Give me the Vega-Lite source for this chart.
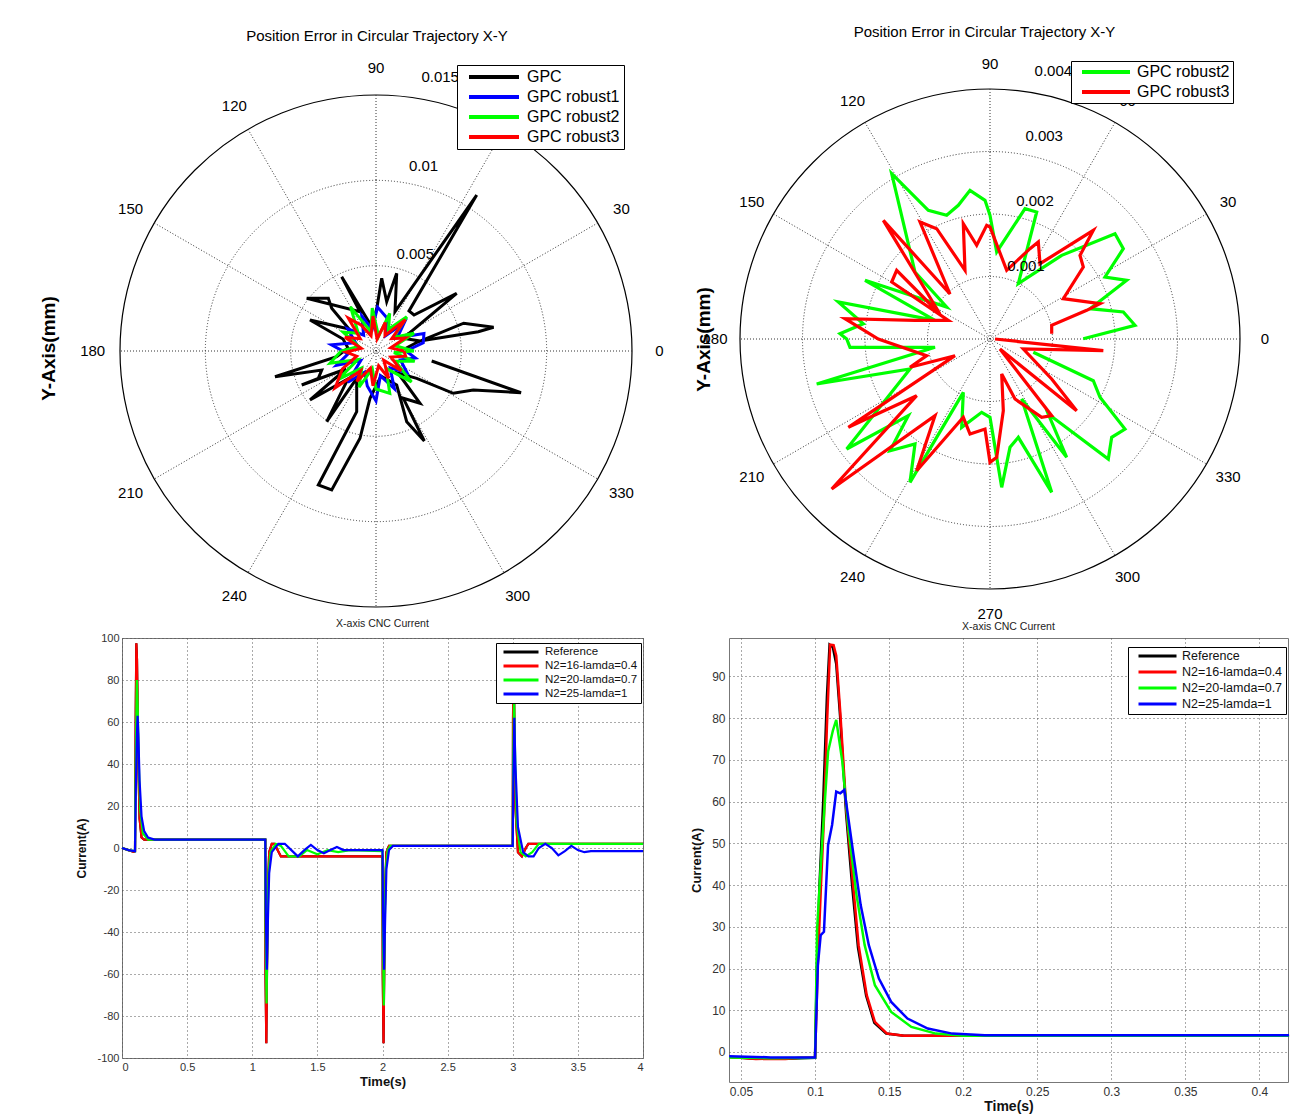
{
"$schema": "https://vega.github.io/schema/vega-lite/v6.json",
"background": "white",
"padding": {"left": 39, "top": 24, "right": 0, "bottom": 0},
"autosize": {"type": "pad"},
"config": {"font": "Liberation Sans", "view": {"stroke": "#777"}, "title": {"font": "Liberation Sans"}, "axis": {"labelFont": "Liberation Sans", "titleFont": "Liberation Sans"}, "legend": {"labelFont": "Liberation Sans"}, "text": {"font": "Liberation Sans"}},
"datasets": {
"tl": [
{"s":"GPC","i":1,"x":0.001752,"y":0.000152},{"s":"GPC","i":2,"x":0.002408,"y":0.000510},{"s":"GPC","i":3,"x":0.005138,"y":0.001629},{"s":"GPC","i":4,"x":0.006890,"y":0.001389},{"s":"GPC","i":5,"x":0.005994,"y":0.001131},{"s":"GPC","i":6,"x":0.002578,"y":0.000586},{"s":"GPC","i":7,"x":0.001594,"y":0.000744},{"s":"GPC","i":8,"x":0.004728,"y":0.003381},{"s":"GPC","i":9,"x":0.002226,"y":0.002109},{"s":"GPC","i":10,"x":0.001933,"y":0.002344},{"s":"GPC","i":11,"x":0.005900,"y":0.009140},{"s":"GPC","i":12,"x":0.001113,"y":0.002303},{"s":"GPC","i":13,"x":0.001213,"y":0.004552},{"s":"GPC","i":14,"x":0.000627,"y":0.002888},{"s":"GPC","i":15,"x":0.000334,"y":0.004260},{"s":"GPC","i":16,"x":0.000041,"y":0.002461},{"s":"GPC","i":17,"x":-0.000252,"y":0.001441},{"s":"GPC","i":18,"x":-0.002010,"y":0.004353},{"s":"GPC","i":19,"x":-0.000937,"y":0.002303},{"s":"GPC","i":20,"x":-0.004060,"y":0.003088},{"s":"GPC","i":21,"x":-0.002795,"y":0.003088},{"s":"GPC","i":22,"x":-0.002596,"y":0.002502},{"s":"GPC","i":23,"x":-0.001582,"y":0.001289},{"s":"GPC","i":24,"x":-0.003867,"y":0.001816},{"s":"GPC","i":25,"x":-0.001933,"y":0.000703},{"s":"GPC","i":26,"x":-0.001641,"y":0.000176},{"s":"GPC","i":27,"x":-0.002303,"y":-0.000334},{"s":"GPC","i":28,"x":-0.005918,"y":-0.001506},{"s":"GPC","i":29,"x":-0.003181,"y":-0.001113},{"s":"GPC","i":30,"x":-0.003381,"y":-0.001600},{"s":"GPC","i":31,"x":-0.004353,"y":-0.001992},{"s":"GPC","i":32,"x":-0.001758,"y":-0.001055},{"s":"GPC","i":33,"x":-0.003867,"y":-0.002871},{"s":"GPC","i":34,"x":-0.001641,"y":-0.001641},{"s":"GPC","i":35,"x":-0.002888,"y":-0.004142},{"s":"GPC","i":36,"x":-0.001131,"y":-0.001600},{"s":"GPC","i":37,"x":-0.001131,"y":-0.003556},{"s":"GPC","i":38,"x":-0.003381,"y":-0.007851},{"s":"GPC","i":39,"x":-0.002596,"y":-0.008144},{"s":"GPC","i":40,"x":-0.000937,"y":-0.005115},{"s":"GPC","i":41,"x":-0.000352,"y":-0.002771},{"s":"GPC","i":42,"x":0.000293,"y":-0.001465},{"s":"GPC","i":43,"x":0.001213,"y":-0.001992},{"s":"GPC","i":44,"x":0.001799,"y":-0.004142},{"s":"GPC","i":45,"x":0.002830,"y":-0.005273},{"s":"GPC","i":46,"x":0.001600,"y":-0.002771},{"s":"GPC","i":47,"x":0.002578,"y":-0.003064},{"s":"GPC","i":48,"x":0.001289,"y":-0.001289},{"s":"GPC","i":49,"x":0.002385,"y":-0.001600},{"s":"GPC","i":50,"x":0.004529,"y":-0.002478},{"s":"GPC","i":51,"x":0.005701,"y":-0.002285},{"s":"GPC","i":52,"x":0.008496,"y":-0.002443},{"s":"GPC","i":53,"x":0.003263,"y":-0.000586},
{"s":"GPC robust1","i":1,"x":0.001758,"y":0},{"s":"GPC robust1","i":2,"x":0.002770,"y":0.000489},{"s":"GPC robust1","i":3,"x":0.002809,"y":0.001022},{"s":"GPC robust1","i":4,"x":0.001242,"y":0.000776},{"s":"GPC robust1","i":5,"x":0.001657,"y":0.001657},{"s":"GPC robust1","i":6,"x":0.000559,"y":0.000895},{"s":"GPC robust1","i":7,"x":0.000634,"y":0.001951},{"s":"GPC robust1","i":8,"x":0.000090,"y":0.002575},{"s":"GPC robust1","i":9,"x":-0.000224,"y":0.001270},{"s":"GPC robust1","i":10,"x":-0.000835,"y":0.002064},{"s":"GPC robust1","i":11,"x":-0.000722,"y":0.000924},{"s":"GPC robust1","i":12,"x":-0.001662,"y":0.001299},{"s":"GPC robust1","i":13,"x":-0.001195,"y":0.000483},{"s":"GPC robust1","i":14,"x":-0.002611,"y":0.000367},{"s":"GPC robust1","i":15,"x":-0.001633,"y":-0.000172},{"s":"GPC robust1","i":16,"x":-0.002313,"y":-0.000842},{"s":"GPC robust1","i":17,"x":-0.000895,"y":-0.000559},{"s":"GPC robust1","i":18,"x":-0.001647,"y":-0.001829},{"s":"GPC robust1","i":19,"x":-0.000659,"y":-0.001241},{"s":"GPC robust1","i":20,"x":-0.000510,"y":-0.002046},{"s":"GPC robust1","i":21,"x":0,"y":-0.002930},{"s":"GPC robust1","i":22,"x":0.000255,"y":-0.001443},{"s":"GPC robust1","i":23,"x":0.001078,"y":-0.002213},{"s":"GPC robust1","i":24,"x":0.000829,"y":-0.000987},{"s":"GPC robust1","i":25,"x":0.001823,"y":-0.001278},{"s":"GPC robust1","i":26,"x":0.001432,"y":-0.000521},{"s":"GPC robust1","i":27,"x":0.002309,"y":-0.000408},{"s":"GPC robust1","i":28,"x":0.001758,"y":0},
{"s":"GPC robust2","i":1,"x":0.002226,"y":0},{"s":"GPC robust2","i":2,"x":0.001132,"y":0.000304},{"s":"GPC robust2","i":3,"x":0.002230,"y":0.001041},{"s":"GPC robust2","i":4,"x":0.001016,"y":0.000794},{"s":"GPC robust2","i":5,"x":0.001803,"y":0.002002},{"s":"GPC robust2","i":6,"x":0.000733,"y":0.001269},{"s":"GPC robust2","i":7,"x":0.000802,"y":0.002203},{"s":"GPC robust2","i":8,"x":0.000153,"y":0.000866},{"s":"GPC robust2","i":9,"x":-0.000219,"y":0.002509},{"s":"GPC robust2","i":10,"x":-0.000304,"y":0.001132},{"s":"GPC robust2","i":11,"x":-0.001494,"y":0.002588},{"s":"GPC robust2","i":12,"x":-0.001036,"y":0.001036},{"s":"GPC robust2","i":13,"x":-0.001928,"y":0.001113},{"s":"GPC robust2","i":14,"x":-0.001019,"y":0.000273},{"s":"GPC robust2","i":15,"x":-0.002051,"y":0},{"s":"GPC robust2","i":16,"x":-0.002694,"y":-0.000722},{"s":"GPC robust2","i":17,"x":-0.001062,"y":-0.000496},{"s":"GPC robust2","i":18,"x":-0.002224,"y":-0.001675},{"s":"GPC robust2","i":19,"x":-0.000829,"y":-0.000987},{"s":"GPC robust2","i":20,"x":-0.000991,"y":-0.002124},{"s":"GPC robust2","i":21,"x":-0.000219,"y":-0.001032},{"s":"GPC robust2","i":22,"x":0,"y":-0.002226},{"s":"GPC robust2","i":23,"x":0.000807,"y":-0.002485},{"s":"GPC robust2","i":24,"x":0.000586,"y":-0.001015},{"s":"GPC robust2","i":25,"x":0.002079,"y":-0.001807},{"s":"GPC robust2","i":26,"x":0.001138,"y":-0.000605},{"s":"GPC robust2","i":27,"x":0.002264,"y":-0.000607},{"s":"GPC robust2","i":28,"x":0.001051,"y":-0.000092},{"s":"GPC robust2","i":29,"x":0.002226,"y":0},
{"s":"GPC robust3","i":1,"x":0.001641,"y":0},{"s":"GPC robust3","i":2,"x":0.000860,"y":0.000183},{"s":"GPC robust3","i":3,"x":0.001714,"y":0.000763},{"s":"GPC robust3","i":4,"x":0.000924,"y":0.000722},{"s":"GPC robust3","i":5,"x":0.001718,"y":0.001841},{"s":"GPC robust3","i":6,"x":0.000528,"y":0.000914},{"s":"GPC robust3","i":7,"x":0.000543,"y":0.001672},{"s":"GPC robust3","i":8,"x":0.000061,"y":0.000700},{"s":"GPC robust3","i":9,"x":-0.000178,"y":0.002043},{"s":"GPC robust3","i":10,"x":-0.000290,"y":0.000891},{"s":"GPC robust3","i":11,"x":-0.000879,"y":0.001522},{"s":"GPC robust3","i":12,"x":-0.001620,"y":0.001930},{"s":"GPC robust3","i":13,"x":-0.000924,"y":0.000722},{"s":"GPC robust3","i":14,"x":-0.001821,"y":0.000811},{"s":"GPC robust3","i":15,"x":-0.000866,"y":0.000153},{"s":"GPC robust3","i":16,"x":-0.001756,"y":-0.000062},{"s":"GPC robust3","i":17,"x":-0.001132,"y":-0.000304},{"s":"GPC robust3","i":18,"x":-0.001966,"y":-0.001044},{"s":"GPC robust3","i":19,"x":-0.002394,"y":-0.002156},{"s":"GPC robust3","i":20,"x":-0.000902,"y":-0.001154},{"s":"GPC robust3","i":21,"x":-0.001118,"y":-0.001788},{"s":"GPC robust3","i":22,"x":-0.000326,"y":-0.001003},{"s":"GPC robust3","i":23,"x":-0.000178,"y":-0.002043},{"s":"GPC robust3","i":24,"x":0.000153,"y":-0.000866},{"s":"GPC robust3","i":25,"x":0.000744,"y":-0.001593},{"s":"GPC robust3","i":26,"x":0.000452,"y":-0.000539},{"s":"GPC robust3","i":27,"x":0.001478,"y":-0.001155},{"s":"GPC robust3","i":28,"x":0.000869,"y":-0.000351},{"s":"GPC robust3","i":29,"x":0.001732,"y":-0.000306},{"s":"GPC robust3","i":30,"x":0.001641,"y":0}
],
"tr": [
{"s":"GPC robust2","i":1,"x":0.001493,"y":0.000005},{"s":"GPC robust2","i":2,"x":0.002320,"y":0.000219},{"s":"GPC robust2","i":3,"x":0.002133,"y":0.000432},{"s":"GPC robust2","i":4,"x":0.001600,"y":0.000485},{"s":"GPC robust2","i":5,"x":0.002187,"y":0.000939},{"s":"GPC robust2","i":6,"x":0.001840,"y":0.000992},{"s":"GPC robust2","i":7,"x":0.002133,"y":0.001445},{"s":"GPC robust2","i":8,"x":0.002000,"y":0.001685},{"s":"GPC robust2","i":9,"x":0.001147,"y":0.001339},{"s":"GPC robust2","i":10,"x":0.000453,"y":0.000885},{"s":"GPC robust2","i":11,"x":0.000747,"y":0.002032},{"s":"GPC robust2","i":12,"x":0.000560,"y":0.002085},{"s":"GPC robust2","i":13,"x":0.000107,"y":0.001392},{"s":"GPC robust2","i":14,"x":0,"y":0.001979},{"s":"GPC robust2","i":15,"x":-0.000080,"y":0.002219},{"s":"GPC robust2","i":16,"x":-0.000320,"y":0.002379},{"s":"GPC robust2","i":17,"x":-0.000507,"y":0.002139},{"s":"GPC robust2","i":18,"x":-0.000693,"y":0.001979},{"s":"GPC robust2","i":19,"x":-0.000987,"y":0.002059},{"s":"GPC robust2","i":20,"x":-0.001573,"y":0.002645},{"s":"GPC robust2","i":21,"x":-0.001200,"y":0.001072},{"s":"GPC robust2","i":22,"x":-0.000693,"y":0.000512},{"s":"GPC robust2","i":23,"x":-0.002000,"y":0.000939},{"s":"GPC robust2","i":24,"x":-0.000880,"y":0.000299},{"s":"GPC robust2","i":25,"x":-0.002427,"y":0.000592},{"s":"GPC robust2","i":26,"x":-0.002027,"y":0.000245},{"s":"GPC robust2","i":27,"x":-0.002400,"y":0.000085},{"s":"GPC robust2","i":28,"x":-0.002293,"y":0},{"s":"GPC robust2","i":29,"x":-0.002240,"y":-0.000133},{"s":"GPC robust2","i":30,"x":-0.000880,"y":-0.000133},{"s":"GPC robust2","i":31,"x":-0.002773,"y":-0.000720},{"s":"GPC robust2","i":32,"x":-0.001280,"y":-0.000480},{"s":"GPC robust2","i":33,"x":-0.002293,"y":-0.001760},{"s":"GPC robust2","i":34,"x":-0.001307,"y":-0.001227},{"s":"GPC robust2","i":35,"x":-0.001600,"y":-0.001787},{"s":"GPC robust2","i":36,"x":-0.001200,"y":-0.001680},{"s":"GPC robust2","i":37,"x":-0.001280,"y":-0.002293},{"s":"GPC robust2","i":38,"x":-0.000427,"y":-0.000853},{"s":"GPC robust2","i":39,"x":-0.000453,"y":-0.001413},{"s":"GPC robust2","i":40,"x":-0.000133,"y":-0.001173},{"s":"GPC robust2","i":41,"x":0,"y":-0.001253},{"s":"GPC robust2","i":42,"x":0.000187,"y":-0.002373},{"s":"GPC robust2","i":43,"x":0.000320,"y":-0.001733},{"s":"GPC robust2","i":44,"x":0.000453,"y":-0.001573},{"s":"GPC robust2","i":45,"x":0.000987,"y":-0.002453},{"s":"GPC robust2","i":46,"x":0.000507,"y":-0.000960},{"s":"GPC robust2","i":47,"x":0.001227,"y":-0.001893},{"s":"GPC robust2","i":48,"x":0.000933,"y":-0.001200},{"s":"GPC robust2","i":49,"x":0.001893,"y":-0.001920},{"s":"GPC robust2","i":50,"x":0.001947,"y":-0.001573},{"s":"GPC robust2","i":51,"x":0.002160,"y":-0.001440},{"s":"GPC robust2","i":52,"x":0.001760,"y":-0.000933},{"s":"GPC robust2","i":53,"x":0.001653,"y":-0.000667},{"s":"GPC robust2","i":54,"x":0.000693,"y":-0.000213},
{"s":"GPC robust3","i":1,"x":0.000987,"y":0.000085},{"s":"GPC robust3","i":2,"x":0.000987,"y":0.000219},{"s":"GPC robust3","i":3,"x":0.001547,"y":0.000459},{"s":"GPC robust3","i":4,"x":0.001760,"y":0.000565},{"s":"GPC robust3","i":5,"x":0.001173,"y":0.000645},{"s":"GPC robust3","i":6,"x":0.001493,"y":0.001152},{"s":"GPC robust3","i":7,"x":0.001440,"y":0.001339},{"s":"GPC robust3","i":8,"x":0.001653,"y":0.001739},{"s":"GPC robust3","i":9,"x":0.000800,"y":0.001205},{"s":"GPC robust3","i":10,"x":0.000773,"y":0.001552},{"s":"GPC robust3","i":11,"x":0.000640,"y":0.001445},{"s":"GPC robust3","i":12,"x":0.000267,"y":0.001099},{"s":"GPC robust3","i":13,"x":0,"y":0.001792},{"s":"GPC robust3","i":14,"x":-0.000053,"y":0.001819},{"s":"GPC robust3","i":15,"x":-0.000213,"y":0.001499},{"s":"GPC robust3","i":16,"x":-0.000427,"y":0.001845},{"s":"GPC robust3","i":17,"x":-0.000400,"y":0.001099},{"s":"GPC robust3","i":18,"x":-0.000853,"y":0.001765},{"s":"GPC robust3","i":19,"x":-0.001120,"y":0.001872},{"s":"GPC robust3","i":20,"x":-0.000640,"y":0.000720},{"s":"GPC robust3","i":21,"x":-0.001707,"y":0.001899},{"s":"GPC robust3","i":22,"x":-0.000800,"y":0.000400},{"s":"GPC robust3","i":23,"x":-0.001493,"y":0.001099},{"s":"GPC robust3","i":24,"x":-0.001573,"y":0.000912},{"s":"GPC robust3","i":25,"x":-0.000667,"y":0.000299},{"s":"GPC robust3","i":26,"x":-0.001200,"y":0.000299},{"s":"GPC robust3","i":27,"x":-0.002320,"y":0.000325},{"s":"GPC robust3","i":28,"x":-0.001787,"y":0},{"s":"GPC robust3","i":29,"x":-0.001013,"y":-0.000267},{"s":"GPC robust3","i":30,"x":-0.001280,"y":-0.000453},{"s":"GPC robust3","i":31,"x":-0.000560,"y":-0.000267},{"s":"GPC robust3","i":32,"x":-0.002267,"y":-0.001413},{"s":"GPC robust3","i":33,"x":-0.001173,"y":-0.000907},{"s":"GPC robust3","i":34,"x":-0.002533,"y":-0.002400},{"s":"GPC robust3","i":35,"x":-0.000880,"y":-0.001227},{"s":"GPC robust3","i":36,"x":-0.001173,"y":-0.002107},{"s":"GPC robust3","i":37,"x":-0.000427,"y":-0.001253},{"s":"GPC robust3","i":38,"x":-0.000320,"y":-0.001520},{"s":"GPC robust3","i":39,"x":-0.000080,"y":-0.001440},{"s":"GPC robust3","i":40,"x":0,"y":-0.001973},{"s":"GPC robust3","i":41,"x":0.000107,"y":-0.001893},{"s":"GPC robust3","i":42,"x":0.000213,"y":-0.001147},{"s":"GPC robust3","i":43,"x":0.000187,"y":-0.000560},{"s":"GPC robust3","i":44,"x":0.000400,"y":-0.000960},{"s":"GPC robust3","i":45,"x":0.000827,"y":-0.001253},{"s":"GPC robust3","i":46,"x":0.000987,"y":-0.001227},{"s":"GPC robust3","i":47,"x":0.000160,"y":-0.000160},{"s":"GPC robust3","i":48,"x":0.001387,"y":-0.001147},{"s":"GPC robust3","i":49,"x":0.000987,"y":-0.000640},{"s":"GPC robust3","i":50,"x":0.000533,"y":-0.000160},{"s":"GPC robust3","i":51,"x":0.001813,"y":-0.000187},{"s":"GPC robust3","i":52,"x":0.000080,"y":0}
],
"bl": [
{"s":"Reference","t":0,"v":0},{"s":"Reference","t":0.05,"v":-1},{"s":"Reference","t":0.09,"v":-1.8},{"s":"Reference","t":0.1,"v":-1.5},{"s":"Reference","t":0.105,"v":60},{"s":"Reference","t":0.11,"v":97.5},{"s":"Reference","t":0.115,"v":90},{"s":"Reference","t":0.125,"v":42},{"s":"Reference","t":0.135,"v":14},{"s":"Reference","t":0.15,"v":5},{"s":"Reference","t":0.17,"v":4},{"s":"Reference","t":1.1,"v":4},{"s":"Reference","t":1.102,"v":-60},{"s":"Reference","t":1.108,"v":-93},{"s":"Reference","t":1.113,"v":-60},{"s":"Reference","t":1.12,"v":-20},{"s":"Reference","t":1.13,"v":-2},{"s":"Reference","t":1.15,"v":2},{"s":"Reference","t":1.17,"v":2},{"s":"Reference","t":1.22,"v":-4},{"s":"Reference","t":2.0,"v":-4},{"s":"Reference","t":2.002,"v":-60},{"s":"Reference","t":2.008,"v":-93},{"s":"Reference","t":2.013,"v":-60},{"s":"Reference","t":2.02,"v":-20},{"s":"Reference","t":2.03,"v":-2},{"s":"Reference","t":2.05,"v":1},{"s":"Reference","t":3.0,"v":1},{"s":"Reference","t":3.002,"v":60},{"s":"Reference","t":3.007,"v":97},{"s":"Reference","t":3.012,"v":60},{"s":"Reference","t":3.02,"v":20},{"s":"Reference","t":3.04,"v":-2},{"s":"Reference","t":3.07,"v":-4},{"s":"Reference","t":3.1,"v":0},{"s":"Reference","t":3.12,"v":2},{"s":"Reference","t":4,"v":2},
{"s":"N2=16-lamda=0.4","t":0,"v":0},{"s":"N2=16-lamda=0.4","t":0.05,"v":-1},{"s":"N2=16-lamda=0.4","t":0.09,"v":-1.8},{"s":"N2=16-lamda=0.4","t":0.1,"v":-1.5},{"s":"N2=16-lamda=0.4","t":0.105,"v":60},{"s":"N2=16-lamda=0.4","t":0.11,"v":97.5},{"s":"N2=16-lamda=0.4","t":0.115,"v":90},{"s":"N2=16-lamda=0.4","t":0.125,"v":42},{"s":"N2=16-lamda=0.4","t":0.135,"v":14},{"s":"N2=16-lamda=0.4","t":0.15,"v":5},{"s":"N2=16-lamda=0.4","t":0.17,"v":4},{"s":"N2=16-lamda=0.4","t":1.1,"v":4},{"s":"N2=16-lamda=0.4","t":1.102,"v":-60},{"s":"N2=16-lamda=0.4","t":1.108,"v":-93},{"s":"N2=16-lamda=0.4","t":1.113,"v":-60},{"s":"N2=16-lamda=0.4","t":1.12,"v":-20},{"s":"N2=16-lamda=0.4","t":1.13,"v":-2},{"s":"N2=16-lamda=0.4","t":1.15,"v":2},{"s":"N2=16-lamda=0.4","t":1.17,"v":2},{"s":"N2=16-lamda=0.4","t":1.22,"v":-4},{"s":"N2=16-lamda=0.4","t":2.0,"v":-4},{"s":"N2=16-lamda=0.4","t":2.002,"v":-60},{"s":"N2=16-lamda=0.4","t":2.008,"v":-93},{"s":"N2=16-lamda=0.4","t":2.013,"v":-60},{"s":"N2=16-lamda=0.4","t":2.02,"v":-20},{"s":"N2=16-lamda=0.4","t":2.03,"v":-2},{"s":"N2=16-lamda=0.4","t":2.05,"v":1},{"s":"N2=16-lamda=0.4","t":3.0,"v":1},{"s":"N2=16-lamda=0.4","t":3.002,"v":60},{"s":"N2=16-lamda=0.4","t":3.007,"v":97},{"s":"N2=16-lamda=0.4","t":3.012,"v":60},{"s":"N2=16-lamda=0.4","t":3.02,"v":20},{"s":"N2=16-lamda=0.4","t":3.04,"v":-2},{"s":"N2=16-lamda=0.4","t":3.07,"v":-4},{"s":"N2=16-lamda=0.4","t":3.1,"v":0},{"s":"N2=16-lamda=0.4","t":3.12,"v":2},{"s":"N2=16-lamda=0.4","t":4,"v":2},
{"s":"N2=20-lamda=0.7","t":0,"v":0},{"s":"N2=20-lamda=0.7","t":0.05,"v":-1},{"s":"N2=20-lamda=0.7","t":0.1,"v":-1.5},{"s":"N2=20-lamda=0.7","t":0.105,"v":40},{"s":"N2=20-lamda=0.7","t":0.114,"v":80},{"s":"N2=20-lamda=0.7","t":0.12,"v":68},{"s":"N2=20-lamda=0.7","t":0.13,"v":38},{"s":"N2=20-lamda=0.7","t":0.14,"v":18},{"s":"N2=20-lamda=0.7","t":0.16,"v":7},{"s":"N2=20-lamda=0.7","t":0.2,"v":4},{"s":"N2=20-lamda=0.7","t":1.1,"v":4},{"s":"N2=20-lamda=0.7","t":1.103,"v":-40},{"s":"N2=20-lamda=0.7","t":1.11,"v":-74},{"s":"N2=20-lamda=0.7","t":1.116,"v":-40},{"s":"N2=20-lamda=0.7","t":1.125,"v":-12},{"s":"N2=20-lamda=0.7","t":1.14,"v":-2},{"s":"N2=20-lamda=0.7","t":1.18,"v":2},{"s":"N2=20-lamda=0.7","t":1.22,"v":1},{"s":"N2=20-lamda=0.7","t":1.28,"v":-4},{"s":"N2=20-lamda=0.7","t":1.36,"v":-4},{"s":"N2=20-lamda=0.7","t":1.42,"v":-1},{"s":"N2=20-lamda=0.7","t":1.5,"v":-3},{"s":"N2=20-lamda=0.7","t":1.58,"v":-1},{"s":"N2=20-lamda=0.7","t":1.66,"v":-2},{"s":"N2=20-lamda=0.7","t":1.75,"v":-1},{"s":"N2=20-lamda=0.7","t":2.0,"v":-1.5},{"s":"N2=20-lamda=0.7","t":2.003,"v":-40},{"s":"N2=20-lamda=0.7","t":2.01,"v":-75},{"s":"N2=20-lamda=0.7","t":2.016,"v":-40},{"s":"N2=20-lamda=0.7","t":2.025,"v":-10},{"s":"N2=20-lamda=0.7","t":2.04,"v":-1},{"s":"N2=20-lamda=0.7","t":2.06,"v":1},{"s":"N2=20-lamda=0.7","t":3.0,"v":1},{"s":"N2=20-lamda=0.7","t":3.003,"v":40},{"s":"N2=20-lamda=0.7","t":3.01,"v":72},{"s":"N2=20-lamda=0.7","t":3.016,"v":50},{"s":"N2=20-lamda=0.7","t":3.03,"v":12},{"s":"N2=20-lamda=0.7","t":3.06,"v":-2},{"s":"N2=20-lamda=0.7","t":3.1,"v":-4},{"s":"N2=20-lamda=0.7","t":3.15,"v":-2},{"s":"N2=20-lamda=0.7","t":3.2,"v":2},{"s":"N2=20-lamda=0.7","t":4,"v":2},
{"s":"N2=25-lamda=1","t":0,"v":0},{"s":"N2=25-lamda=1","t":0.05,"v":-1},{"s":"N2=25-lamda=1","t":0.1,"v":-1.5},{"s":"N2=25-lamda=1","t":0.106,"v":28},{"s":"N2=25-lamda=1","t":0.115,"v":55},{"s":"N2=25-lamda=1","t":0.12,"v":63},{"s":"N2=25-lamda=1","t":0.125,"v":55},{"s":"N2=25-lamda=1","t":0.135,"v":32},{"s":"N2=25-lamda=1","t":0.15,"v":15},{"s":"N2=25-lamda=1","t":0.17,"v":8},{"s":"N2=25-lamda=1","t":0.2,"v":5},{"s":"N2=25-lamda=1","t":0.25,"v":4},{"s":"N2=25-lamda=1","t":1.1,"v":4},{"s":"N2=25-lamda=1","t":1.104,"v":-30},{"s":"N2=25-lamda=1","t":1.112,"v":-58},{"s":"N2=25-lamda=1","t":1.12,"v":-35},{"s":"N2=25-lamda=1","t":1.13,"v":-12},{"s":"N2=25-lamda=1","t":1.15,"v":-2},{"s":"N2=25-lamda=1","t":1.2,"v":2},{"s":"N2=25-lamda=1","t":1.25,"v":2},{"s":"N2=25-lamda=1","t":1.3,"v":-1},{"s":"N2=25-lamda=1","t":1.35,"v":-4},{"s":"N2=25-lamda=1","t":1.4,"v":-1},{"s":"N2=25-lamda=1","t":1.45,"v":1.5},{"s":"N2=25-lamda=1","t":1.5,"v":-1},{"s":"N2=25-lamda=1","t":1.55,"v":-2.5},{"s":"N2=25-lamda=1","t":1.6,"v":-1},{"s":"N2=25-lamda=1","t":1.65,"v":0.5},{"s":"N2=25-lamda=1","t":1.7,"v":-1},{"s":"N2=25-lamda=1","t":1.8,"v":-1},{"s":"N2=25-lamda=1","t":2.0,"v":-1},{"s":"N2=25-lamda=1","t":2.004,"v":-30},{"s":"N2=25-lamda=1","t":2.012,"v":-58},{"s":"N2=25-lamda=1","t":2.02,"v":-35},{"s":"N2=25-lamda=1","t":2.03,"v":-10},{"s":"N2=25-lamda=1","t":2.05,"v":-1},{"s":"N2=25-lamda=1","t":2.08,"v":1},{"s":"N2=25-lamda=1","t":3.0,"v":1},{"s":"N2=25-lamda=1","t":3.004,"v":30},{"s":"N2=25-lamda=1","t":3.012,"v":62},{"s":"N2=25-lamda=1","t":3.02,"v":40},{"s":"N2=25-lamda=1","t":3.04,"v":10},{"s":"N2=25-lamda=1","t":3.08,"v":-2},{"s":"N2=25-lamda=1","t":3.12,"v":-4},{"s":"N2=25-lamda=1","t":3.16,"v":-4},{"s":"N2=25-lamda=1","t":3.2,"v":0},{"s":"N2=25-lamda=1","t":3.25,"v":2},{"s":"N2=25-lamda=1","t":3.3,"v":0},{"s":"N2=25-lamda=1","t":3.35,"v":-3.5},{"s":"N2=25-lamda=1","t":3.4,"v":-1.5},{"s":"N2=25-lamda=1","t":3.45,"v":1},{"s":"N2=25-lamda=1","t":3.5,"v":-1},{"s":"N2=25-lamda=1","t":3.55,"v":-2},{"s":"N2=25-lamda=1","t":3.6,"v":-1.5},{"s":"N2=25-lamda=1","t":4,"v":-1.5}
],
"br": [
{"s":"Reference","t":0.042,"v":-1.2},{"s":"Reference","t":0.06,"v":-1.6},{"s":"Reference","t":0.08,"v":-1.6},{"s":"Reference","t":0.1,"v":-1.4},{"s":"Reference","t":0.1012,"v":20},{"s":"Reference","t":0.103,"v":40},{"s":"Reference","t":0.1055,"v":60},{"s":"Reference","t":0.108,"v":85},{"s":"Reference","t":0.1098,"v":97.6},{"s":"Reference","t":0.112,"v":97},{"s":"Reference","t":0.1143,"v":93},{"s":"Reference","t":0.117,"v":80},{"s":"Reference","t":0.121,"v":57},{"s":"Reference","t":0.125,"v":40},{"s":"Reference","t":0.129,"v":25},{"s":"Reference","t":0.1345,"v":13.5},{"s":"Reference","t":0.14,"v":7},{"s":"Reference","t":0.148,"v":4.4},{"s":"Reference","t":0.16,"v":3.9},{"s":"Reference","t":0.42,"v":3.9},
{"s":"N2=16-lamda=0.4","t":0.042,"v":-1.2},{"s":"N2=16-lamda=0.4","t":0.05,"v":-1.4},{"s":"N2=16-lamda=0.4","t":0.06,"v":-1.7},{"s":"N2=16-lamda=0.4","t":0.07,"v":-1.6},{"s":"N2=16-lamda=0.4","t":0.08,"v":-1.7},{"s":"N2=16-lamda=0.4","t":0.09,"v":-1.4},{"s":"N2=16-lamda=0.4","t":0.1,"v":-1.4},{"s":"N2=16-lamda=0.4","t":0.1019,"v":21.6},{"s":"N2=16-lamda=0.4","t":0.104,"v":40},{"s":"N2=16-lamda=0.4","t":0.106,"v":56},{"s":"N2=16-lamda=0.4","t":0.108,"v":78},{"s":"N2=16-lamda=0.4","t":0.1102,"v":97.6},{"s":"N2=16-lamda=0.4","t":0.1125,"v":97.5},{"s":"N2=16-lamda=0.4","t":0.1143,"v":95},{"s":"N2=16-lamda=0.4","t":0.117,"v":81.6},{"s":"N2=16-lamda=0.4","t":0.1212,"v":57.6},{"s":"N2=16-lamda=0.4","t":0.1253,"v":41.6},{"s":"N2=16-lamda=0.4","t":0.1294,"v":25.6},{"s":"N2=16-lamda=0.4","t":0.1349,"v":13.6},{"s":"N2=16-lamda=0.4","t":0.1404,"v":7.2},{"s":"N2=16-lamda=0.4","t":0.1486,"v":4.4},{"s":"N2=16-lamda=0.4","t":0.16,"v":3.9},{"s":"N2=16-lamda=0.4","t":0.42,"v":3.9},
{"s":"N2=20-lamda=0.7","t":0.042,"v":-1.3},{"s":"N2=20-lamda=0.7","t":0.07,"v":-1.5},{"s":"N2=20-lamda=0.7","t":0.1,"v":-1.4},{"s":"N2=20-lamda=0.7","t":0.1014,"v":29.6},{"s":"N2=20-lamda=0.7","t":0.1047,"v":49.6},{"s":"N2=20-lamda=0.7","t":0.1088,"v":72},{"s":"N2=20-lamda=0.7","t":0.112,"v":77},{"s":"N2=20-lamda=0.7","t":0.1143,"v":79.6},{"s":"N2=20-lamda=0.7","t":0.1184,"v":69.6},{"s":"N2=20-lamda=0.7","t":0.1225,"v":53.6},{"s":"N2=20-lamda=0.7","t":0.128,"v":37.6},{"s":"N2=20-lamda=0.7","t":0.1335,"v":25.6},{"s":"N2=20-lamda=0.7","t":0.1404,"v":16},{"s":"N2=20-lamda=0.7","t":0.1514,"v":9.6},{"s":"N2=20-lamda=0.7","t":0.165,"v":6},{"s":"N2=20-lamda=0.7","t":0.1816,"v":4.4},{"s":"N2=20-lamda=0.7","t":0.2,"v":3.9},{"s":"N2=20-lamda=0.7","t":0.42,"v":3.9},
{"s":"N2=25-lamda=1","t":0.042,"v":-1},{"s":"N2=25-lamda=1","t":0.07,"v":-1.3},{"s":"N2=25-lamda=1","t":0.1,"v":-1.3},{"s":"N2=25-lamda=1","t":0.1019,"v":20.8},{"s":"N2=25-lamda=1","t":0.1038,"v":28},{"s":"N2=25-lamda=1","t":0.106,"v":28.8},{"s":"N2=25-lamda=1","t":0.1088,"v":49.6},{"s":"N2=25-lamda=1","t":0.1115,"v":54.4},{"s":"N2=25-lamda=1","t":0.1143,"v":62.4},{"s":"N2=25-lamda=1","t":0.117,"v":62},{"s":"N2=25-lamda=1","t":0.1198,"v":62.8},{"s":"N2=25-lamda=1","t":0.1225,"v":56},{"s":"N2=25-lamda=1","t":0.1266,"v":45.6},{"s":"N2=25-lamda=1","t":0.1308,"v":35.2},{"s":"N2=25-lamda=1","t":0.1363,"v":25.6},{"s":"N2=25-lamda=1","t":0.1431,"v":17.6},{"s":"N2=25-lamda=1","t":0.1514,"v":12},{"s":"N2=25-lamda=1","t":0.1624,"v":8},{"s":"N2=25-lamda=1","t":0.1761,"v":5.6},{"s":"N2=25-lamda=1","t":0.1926,"v":4.4},{"s":"N2=25-lamda=1","t":0.2146,"v":4},{"s":"N2=25-lamda=1","t":0.42,"v":4}
]
},
"bounds": "flush",
"align": "each",
"columns": 2,
"spacing": {"row": 31, "column": 86},
"resolve": {"scale": {"color": "independent", "radius": "independent", "x": "independent", "y": "independent"}, "legend": {"color": "independent"}, "axis": {"x": "independent", "y": "independent"}},
"concat": [
{
"width": 510, "height": 518,
"view": {"stroke": null},
"title": {"text": "Position Error in Circular Trajectory X-Y", "fontSize": 15, "fontWeight": "normal", "offset": 17, "frame": "group", "color": "#000"},
"layer": [
{"data": {"values": [{"r": 0.005}, {"r": 0.01}]},
 "mark": {"type": "arc", "theta": 0, "theta2": 6.2832, "filled": false, "stroke": "#333", "strokeWidth": 1, "strokeDash": [1, 2]},
 "encoding": {
  "x": {"datum": 0, "type": "quantitative", "scale": {"domain": [-0.014883, 0.015], "nice": false, "zero": false}, "axis": null},
  "y": {"datum": 0, "type": "quantitative", "scale": {"domain": [-0.015, 0.015352], "nice": false, "zero": false}, "axis": {"title": "Y-Axis(mm)", "labels": false, "ticks": false, "domain": false, "grid": false, "titleFontSize": 19, "titleFontWeight": "bold", "titleColor": "#000", "titlePadding": 64}},
  "radius": {"field": "r", "type": "quantitative", "stack": null, "scale": {"type": "linear", "domain": [0, 0.015], "range": [0, 256], "zero": true, "nice": false}}}},
{"data": {"values": [{"r": 0.015}]},
 "mark": {"type": "arc", "theta": 0, "theta2": 6.2832, "filled": false, "stroke": "#000", "strokeWidth": 1.2},
 "encoding": {
  "x": {"datum": 0, "type": "quantitative", "scale": {"domain": [-0.014883, 0.015], "nice": false, "zero": false}, "axis": null},
  "y": {"datum": 0, "type": "quantitative", "scale": {"domain": [-0.015, 0.015352], "nice": false, "zero": false}, "axis": {"title": "Y-Axis(mm)", "labels": false, "ticks": false, "domain": false, "grid": false, "titleFontSize": 19, "titleFontWeight": "bold", "titleColor": "#000", "titlePadding": 64}},
  "radius": {"field": "r", "type": "quantitative", "stack": null, "scale": {"type": "linear", "domain": [0, 0.015], "range": [0, 256], "zero": true, "nice": false}}}},
{"data": {"values": [{"x": 0.015, "y": 0, "x2": -0.015, "y2": 0}, {"x": 0.01299, "y": 0.0075, "x2": -0.01299, "y2": -0.0075}, {"x": 0.0075, "y": 0.01299, "x2": -0.0075, "y2": -0.01299}, {"x": 0, "y": 0.015, "x2": 0, "y2": -0.015}, {"x": -0.0075, "y": 0.01299, "x2": 0.0075, "y2": -0.01299}, {"x": -0.01299, "y": 0.0075, "x2": 0.01299, "y2": -0.0075}]},
 "mark": {"type": "rule", "stroke": "#333", "strokeWidth": 1, "strokeDash": [1, 2]},
 "encoding": {
  "x": {"field": "x", "type": "quantitative", "scale": {"domain": [-0.014883, 0.015], "nice": false, "zero": false}, "axis": null},
  "y": {"field": "y", "type": "quantitative", "scale": {"domain": [-0.015, 0.015352], "nice": false, "zero": false}, "axis": {"title": "Y-Axis(mm)", "labels": false, "ticks": false, "domain": false, "grid": false, "titleFontSize": 19, "titleFontWeight": "bold", "titleColor": "#000", "titlePadding": 64}},
  "x2": {"field": "x2"}, "y2": {"field": "y2"}}},
{"data": {"name": "tl"},
 "mark": {"type": "line", "strokeWidth": 3, "strokeJoin": "miter"},
 "encoding": {
  "x": {"field": "x", "type": "quantitative", "scale": {"domain": [-0.014883, 0.015], "nice": false, "zero": false}, "axis": null},
  "y": {"field": "y", "type": "quantitative", "scale": {"domain": [-0.015, 0.015352], "nice": false, "zero": false}, "axis": {"title": "Y-Axis(mm)", "labels": false, "ticks": false, "domain": false, "grid": false, "titleFontSize": 19, "titleFontWeight": "bold", "titleColor": "#000", "titlePadding": 64}},
  "order": {"field": "i", "type": "quantitative"},
  "color": {"field": "s", "type": "nominal", "scale": {"domain": ["GPC", "GPC robust1", "GPC robust2", "GPC robust3"], "range": ["#000000", "#0000ff", "#00ff00", "#ff0000"]},
   "legend": {"orient": "none", "legendX": 335, "legendY": -24, "title": null, "strokeColor": "#000", "fillColor": "#fff", "padding": 4, "symbolOffset": 6, "symbolType": "stroke", "symbolSize": 2500, "symbolStrokeWidth": 4, "clipHeight": 16, "rowPadding": 4, "labelFontSize": 16, "labelOffset": 6, "labelColor": "#000", "cornerRadius": 0}}}},
{"data": {"values": [{"t": "0", "x": 0.0166, "y": 0}, {"t": "30", "x": 0.01438, "y": 0.0083}, {"t": "60", "x": 0.0083, "y": 0.01438}, {"t": "90", "x": 0, "y": 0.0166}, {"t": "120", "x": -0.0083, "y": 0.01438}, {"t": "150", "x": -0.01438, "y": 0.0083}, {"t": "180", "x": -0.0166, "y": 0}, {"t": "210", "x": -0.01438, "y": -0.0083}, {"t": "240", "x": -0.0083, "y": -0.01438}, {"t": "300", "x": 0.0083, "y": -0.01438}, {"t": "330", "x": 0.01438, "y": -0.0083}]},
 "mark": {"type": "text", "fontSize": 15, "align": "center", "baseline": "middle", "color": "#000"},
 "encoding": {
  "x": {"field": "x", "type": "quantitative", "scale": {"domain": [-0.014883, 0.015], "nice": false, "zero": false}, "axis": null},
  "y": {"field": "y", "type": "quantitative", "scale": {"domain": [-0.015, 0.015352], "nice": false, "zero": false}, "axis": {"title": "Y-Axis(mm)", "labels": false, "ticks": false, "domain": false, "grid": false, "titleFontSize": 19, "titleFontWeight": "bold", "titleColor": "#000", "titlePadding": 64}},
  "text": {"field": "t"}}},
{"data": {"values": [{"t": "0.005", "x": 0.000731, "y": 0.005199}, {"t": "0.01", "x": 0.001462, "y": 0.010398}, {"t": "0.015", "x": 0.002192, "y": 0.015597}]},
 "mark": {"type": "text", "fontSize": 15, "align": "left", "baseline": "bottom", "dx": 8, "color": "#000"},
 "encoding": {
  "x": {"field": "x", "type": "quantitative", "scale": {"domain": [-0.014883, 0.015], "nice": false, "zero": false}, "axis": null},
  "y": {"field": "y", "type": "quantitative", "scale": {"domain": [-0.015, 0.015352], "nice": false, "zero": false}, "axis": {"title": "Y-Axis(mm)", "labels": false, "ticks": false, "domain": false, "grid": false, "titleFontSize": 19, "titleFontWeight": "bold", "titleColor": "#000", "titlePadding": 64}},
  "text": {"field": "t"}}}
]
},
{
"width": 511, "height": 500,
"view": {"stroke": null},
"title": {"text": "Position Error in Circular Trajectory X-Y", "fontSize": 15, "fontWeight": "normal", "offset": 17, "frame": "group", "color": "#000"},
"layer": [
{"data": {"values": [{"r": 0.001}, {"r": 0.002}, {"r": 0.003}]},
 "mark": {"type": "arc", "theta": 0, "theta2": 6.2832, "filled": false, "stroke": "#333", "strokeWidth": 1, "strokeDash": [1, 2]},
 "encoding": {
  "x": {"datum": 0, "type": "quantitative", "scale": {"domain": [-0.004176, 0.004], "nice": false, "zero": false}, "axis": null},
  "y": {"datum": 0, "type": "quantitative", "scale": {"domain": [-0.004, 0.004], "nice": false, "zero": false}, "axis": {"title": "Y-Axis(mm)", "labels": false, "ticks": false, "domain": false, "grid": false, "titleFontSize": 19, "titleFontWeight": "bold", "titleColor": "#000", "titlePadding": 16}},
  "radius": {"field": "r", "type": "quantitative", "stack": null, "scale": {"type": "linear", "domain": [0, 0.004], "range": [0, 250], "zero": true, "nice": false}}}},
{"data": {"values": [{"r": 0.004}]},
 "mark": {"type": "arc", "theta": 0, "theta2": 6.2832, "filled": false, "stroke": "#000", "strokeWidth": 1.2},
 "encoding": {
  "x": {"datum": 0, "type": "quantitative", "scale": {"domain": [-0.004176, 0.004], "nice": false, "zero": false}, "axis": null},
  "y": {"datum": 0, "type": "quantitative", "scale": {"domain": [-0.004, 0.004], "nice": false, "zero": false}, "axis": {"title": "Y-Axis(mm)", "labels": false, "ticks": false, "domain": false, "grid": false, "titleFontSize": 19, "titleFontWeight": "bold", "titleColor": "#000", "titlePadding": 16}},
  "radius": {"field": "r", "type": "quantitative", "stack": null, "scale": {"type": "linear", "domain": [0, 0.004], "range": [0, 250], "zero": true, "nice": false}}}},
{"data": {"values": [{"x": 0.004, "y": 0, "x2": -0.004, "y2": 0}, {"x": 0.003464, "y": 0.002, "x2": -0.003464, "y2": -0.002}, {"x": 0.002, "y": 0.003464, "x2": -0.002, "y2": -0.003464}, {"x": 0, "y": 0.004, "x2": 0, "y2": -0.004}, {"x": -0.002, "y": 0.003464, "x2": 0.002, "y2": -0.003464}, {"x": -0.003464, "y": 0.002, "x2": 0.003464, "y2": -0.002}]},
 "mark": {"type": "rule", "stroke": "#333", "strokeWidth": 1, "strokeDash": [1, 2]},
 "encoding": {
  "x": {"field": "x", "type": "quantitative", "scale": {"domain": [-0.004176, 0.004], "nice": false, "zero": false}, "axis": null},
  "y": {"field": "y", "type": "quantitative", "scale": {"domain": [-0.004, 0.004], "nice": false, "zero": false}, "axis": {"title": "Y-Axis(mm)", "labels": false, "ticks": false, "domain": false, "grid": false, "titleFontSize": 19, "titleFontWeight": "bold", "titleColor": "#000", "titlePadding": 16}},
  "x2": {"field": "x2"}, "y2": {"field": "y2"}}},
{"data": {"name": "tr"},
 "mark": {"type": "line", "strokeWidth": 3.2, "strokeJoin": "miter"},
 "encoding": {
  "x": {"field": "x", "type": "quantitative", "scale": {"domain": [-0.004176, 0.004], "nice": false, "zero": false}, "axis": null},
  "y": {"field": "y", "type": "quantitative", "scale": {"domain": [-0.004, 0.004], "nice": false, "zero": false}, "axis": {"title": "Y-Axis(mm)", "labels": false, "ticks": false, "domain": false, "grid": false, "titleFontSize": 19, "titleFontWeight": "bold", "titleColor": "#000", "titlePadding": 16}},
  "order": {"field": "i", "type": "quantitative"},
  "color": {"field": "s", "type": "nominal", "scale": {"domain": ["GPC robust2", "GPC robust3"], "range": ["#00ff00", "#ff0000"]},
   "legend": {"orient": "none", "legendX": 342, "legendY": -28, "title": null, "strokeColor": "#000", "fillColor": "#fff", "padding": 3, "symbolOffset": 6, "symbolType": "stroke", "symbolSize": 2304, "symbolStrokeWidth": 4, "clipHeight": 16, "rowPadding": 4, "labelFontSize": 16, "labelOffset": 5, "labelColor": "#000", "cornerRadius": 0}}}},
{"data": {"values": [{"t": "0", "x": 0.0044, "y": 0}, {"t": "30", "x": 0.00381, "y": 0.0022}, {"t": "60", "x": 0.0022, "y": 0.00381}, {"t": "90", "x": 0, "y": 0.0044}, {"t": "120", "x": -0.0022, "y": 0.00381}, {"t": "150", "x": -0.00381, "y": 0.0022}, {"t": "180", "x": -0.0044, "y": 0}, {"t": "210", "x": -0.00381, "y": -0.0022}, {"t": "240", "x": -0.0022, "y": -0.00381}, {"t": "270", "x": 0, "y": -0.0044}, {"t": "300", "x": 0.0022, "y": -0.00381}, {"t": "330", "x": 0.00381, "y": -0.0022}]},
 "mark": {"type": "text", "fontSize": 15, "align": "center", "baseline": "middle", "color": "#000"},
 "encoding": {
  "x": {"field": "x", "type": "quantitative", "scale": {"domain": [-0.004176, 0.004], "nice": false, "zero": false}, "axis": null},
  "y": {"field": "y", "type": "quantitative", "scale": {"domain": [-0.004, 0.004], "nice": false, "zero": false}, "axis": {"title": "Y-Axis(mm)", "labels": false, "ticks": false, "domain": false, "grid": false, "titleFontSize": 19, "titleFontWeight": "bold", "titleColor": "#000", "titlePadding": 16}},
  "text": {"field": "t"}}},
{"data": {"values": [{"t": "0.001", "x": 0.000146, "y": 0.00104}, {"t": "0.002", "x": 0.000292, "y": 0.00208}, {"t": "0.003", "x": 0.000438, "y": 0.00312}, {"t": "0.004", "x": 0.000585, "y": 0.00416}]},
 "mark": {"type": "text", "fontSize": 15, "align": "left", "baseline": "bottom", "dx": 8, "color": "#000"},
 "encoding": {
  "x": {"field": "x", "type": "quantitative", "scale": {"domain": [-0.004176, 0.004], "nice": false, "zero": false}, "axis": null},
  "y": {"field": "y", "type": "quantitative", "scale": {"domain": [-0.004, 0.004], "nice": false, "zero": false}, "axis": {"title": "Y-Axis(mm)", "labels": false, "ticks": false, "domain": false, "grid": false, "titleFontSize": 19, "titleFontWeight": "bold", "titleColor": "#000", "titlePadding": 16}},
  "text": {"field": "t"}}}
]
},
{
"width": 521, "height": 420,
"title": {"text": "X-axis CNC Current", "fontSize": 10.5, "fontWeight": "normal", "offset": 3, "frame": "group", "color": "#222"},
"data": {"name": "bl"},
"mark": {"type": "line", "strokeWidth": 2.2},
"encoding": {
 "x": {"field": "t", "type": "quantitative", "scale": {"domain": [0, 4], "nice": false, "zero": false},
  "axis": {"values": [0, 0.5, 1, 1.5, 2, 2.5, 3, 3.5, 4], "labelExpr": "toString(datum.value)", "title": "Time(s)", "grid": true, "gridDash": [1, 3], "gridColor": "#555", "domain": false, "ticks": false, "labelPadding": 3, "labelFontSize": 11, "labelColor": "#333", "titleFontSize": 13, "titleFontWeight": "bold", "titleColor": "#111", "titlePadding": 3}},
 "y": {"field": "v", "type": "quantitative", "scale": {"domain": [-100, 100], "nice": false, "zero": false},
  "axis": {"values": [-100, -80, -60, -40, -20, 0, 20, 40, 60, 80, 100], "labelExpr": "toString(datum.value)", "title": "Current(A)", "grid": true, "gridDash": [1, 3], "gridColor": "#555", "domain": false, "ticks": false, "labelPadding": 3, "labelFontSize": 11, "labelColor": "#333", "titleFontSize": 12, "titleFontWeight": "bold", "titleColor": "#111", "titlePadding": 8}},
 "color": {"field": "s", "type": "nominal", "scale": {"domain": ["Reference", "N2=16-lamda=0.4", "N2=20-lamda=0.7", "N2=25-lamda=1"], "range": ["#000000", "#ff0000", "#00ff00", "#0000ff"]},
  "legend": {"orient": "none", "legendX": 374, "legendY": 5, "title": null, "strokeColor": "#000", "fillColor": "#fff", "padding": 3, "symbolOffset": 3, "symbolType": "stroke", "symbolSize": 1225, "symbolStrokeWidth": 3, "clipHeight": 12, "rowPadding": 2, "labelFontSize": 11.5, "labelOffset": 5, "labelColor": "#111", "cornerRadius": 0}}
}
},
{
"width": 559, "height": 444,
"title": {"text": "X-axis CNC Current", "fontSize": 10.5, "fontWeight": "normal", "offset": 6, "frame": "group", "color": "#222"},
"data": {"name": "br"},
"mark": {"type": "line", "strokeWidth": 2.5},
"encoding": {
 "x": {"field": "t", "type": "quantitative", "scale": {"domain": [0.0419, 0.4193], "nice": false, "zero": false},
  "axis": {"values": [0.05, 0.1, 0.15, 0.2, 0.25, 0.3, 0.35, 0.4], "labelExpr": "toString(datum.value)", "title": "Time(s)", "grid": true, "gridDash": [1, 3], "gridColor": "#555", "domain": false, "ticks": false, "labelPadding": 4, "labelFontSize": 12, "labelColor": "#333", "titleFontSize": 14, "titleFontWeight": "bold", "titleColor": "#111", "titlePadding": 2}},
 "y": {"field": "v", "type": "quantitative", "scale": {"domain": [-7.2, 99.22], "nice": false, "zero": false},
  "axis": {"values": [0, 10, 20, 30, 40, 50, 60, 70, 80, 90], "labelExpr": "toString(datum.value)", "title": "Current(A)", "grid": true, "gridDash": [1, 3], "gridColor": "#555", "domain": false, "ticks": false, "labelPadding": 4, "labelFontSize": 12, "labelColor": "#333", "titleFontSize": 13, "titleFontWeight": "bold", "titleColor": "#111", "titlePadding": 8}},
 "color": {"field": "s", "type": "nominal", "scale": {"domain": ["Reference", "N2=16-lamda=0.4", "N2=20-lamda=0.7", "N2=25-lamda=1"], "range": ["#000000", "#ff0000", "#00ff00", "#0000ff"]},
  "legend": {"orient": "none", "legendX": 399, "legendY": 9, "title": null, "strokeColor": "#000", "fillColor": "#fff", "padding": 3, "symbolOffset": 6, "symbolType": "stroke", "symbolSize": 1444, "symbolStrokeWidth": 3, "clipHeight": 12, "rowPadding": 3, "labelFontSize": 12.5, "labelOffset": 4, "labelColor": "#111", "cornerRadius": 0}}
}
}
]
}
